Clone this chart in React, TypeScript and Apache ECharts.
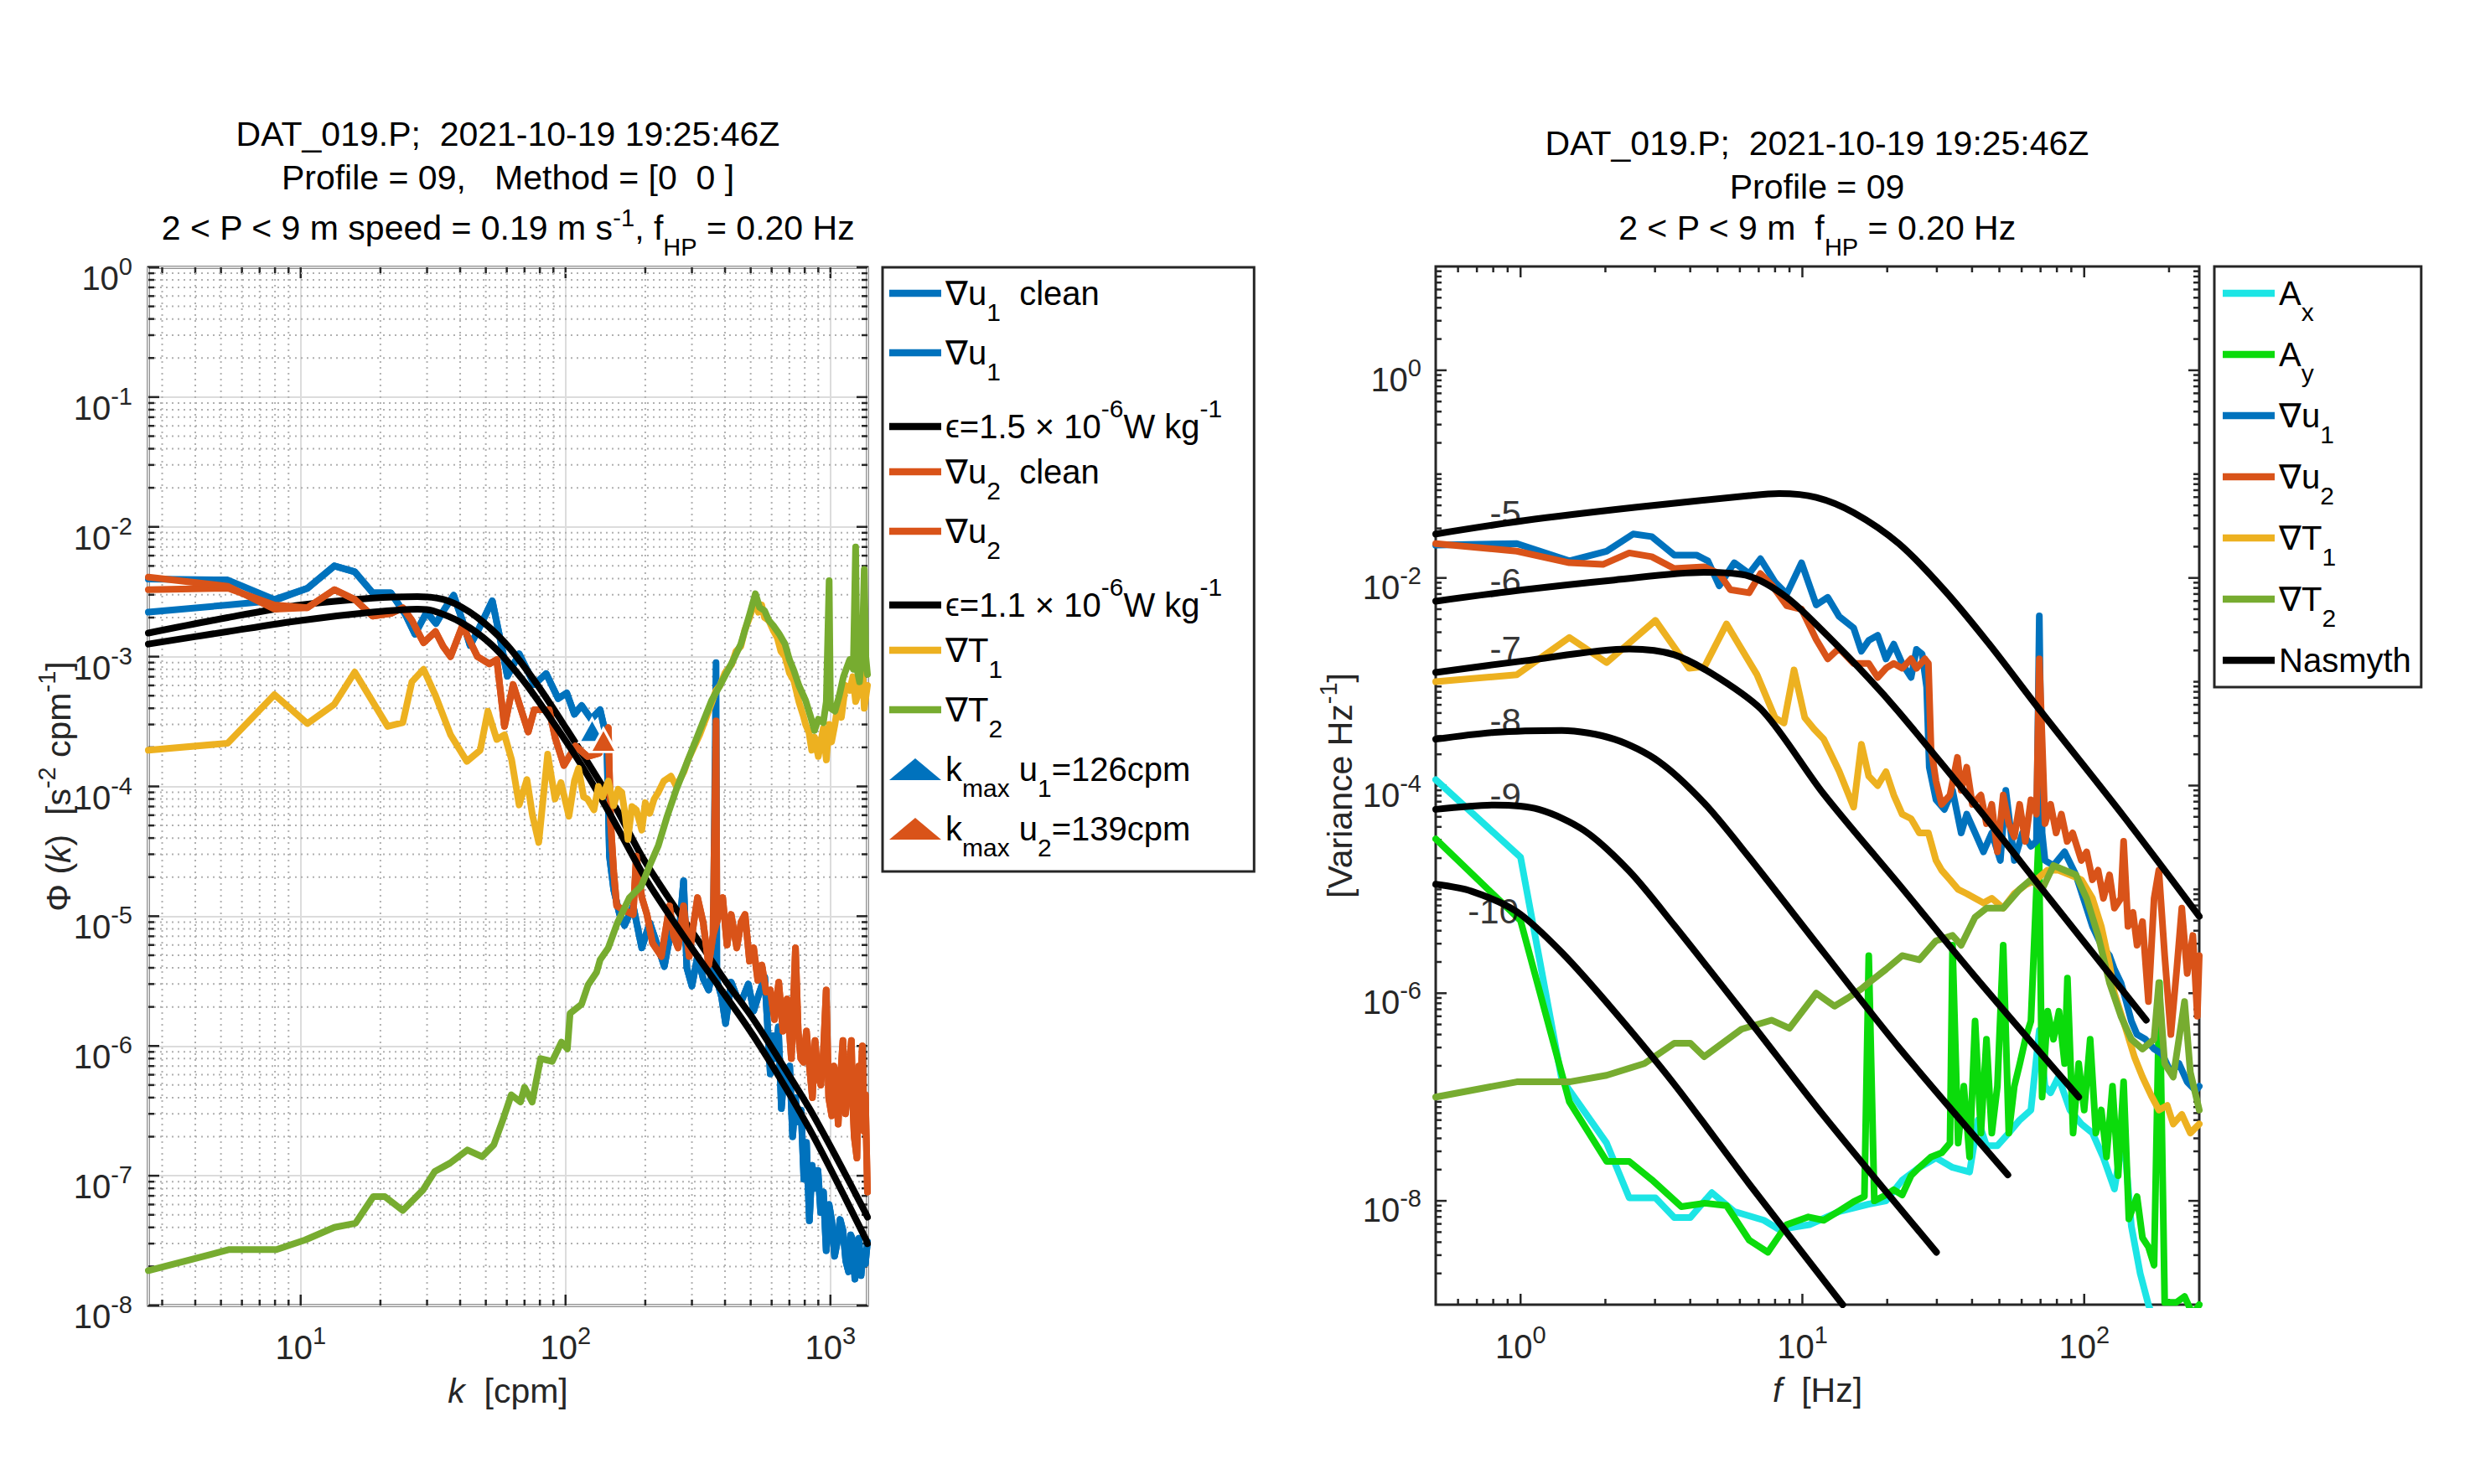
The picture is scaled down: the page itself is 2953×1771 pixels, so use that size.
import React, { useEffect, useRef } from 'react';
import * as echarts from 'echarts';

const FONT = '"Liberation Sans", Arial, Helvetica, sans-serif';
const AX = '#262626';
const BLUE = '#0072BD';
const ORANGE = '#D95319';
const YELLOW = '#EDB120';
const OLIVE = '#77AC30';
const CYAN = '#1CE5E5';
const GREEN = '#0BDB0B';

// ---------------- LEFT PANEL (k in cpm) ----------------
const u1CleanL: number[][] = [
  [2.66, 2.2e-3], [5.3, 2.5e-3], [7.96, 2.7e-3], [10.6, 3.36e-3], [13.4, 5.0e-3], [16.0, 4.5e-3], [18.7, 3.1e-3],
  [21.9, 3.1e-3], [24.9, 2.1e-3], [27.0, 1.49e-3], [29.9, 2.2e-3], [32.4, 1.8e-3], [34.9, 2.32e-3], [37.8, 2.97e-3],
  [40.8, 1.9e-3], [43.6, 1.22e-3], [46.5, 1.56e-3], [52.9, 2.69e-3], [57.3, 1.22e-3], [60.3, 7.06e-4], [66.8, 1.05e-3],
  [76.2, 6.1e-4], [84.5, 7.4e-4], [93.8, 4.75e-4], [101, 5.25e-4], [108, 3.6e-4], [115, 4.2e-4], [125, 3.3e-4],
  [135, 3.9e-4], [143, 2.35e-4], [146.5, 2.9e-5], [152, 1.6e-5], [160, 1.03e-5], [167, 8.5e-6], [180, 1.2e-5],
  [194, 5.7e-6], [208, 8.9e-6], [224, 5.7e-6], [236, 4.1e-6], [253, 8.9e-6], [266, 6e-6], [279, 1.87e-5], [287, 4e-6],
  [300, 2.9e-6], [315, 4.9e-6], [331, 3.3e-6], [347, 2.7e-6], [360, 4e-6], [373, 3.2e-6], [388, 2.4e-6], [402, 1.49e-6],
  [422, 3.1e-6], [443, 2.4e-6], [465, 2.3e-6], [490, 3e-6], [513, 1.86e-6], [540, 2.6e-6], [565, 3.4e-6], [593, 6.1e-7],
  [606, 1.2e-6], [620, 8e-7], [636, 1.4e-6], [653, 3.3e-7], [668, 6e-7], [685, 4.5e-7], [702, 7e-7], [720, 2.0e-7],
  [738, 4e-7], [755, 2.6e-7], [775, 3.2e-7], [794, 9.4e-8], [812, 1.8e-7], [833, 4.5e-8], [853, 1.2e-7], [875, 8e-8],
  [897, 1.1e-7], [919, 5.2e-8], [941, 7.5e-8], [964, 2.65e-8], [988, 6e-8], [1012, 4.5e-8], [1037, 2.4e-8],
  [1062, 3.1e-8], [1088, 4.6e-8], [1115, 3.8e-8], [1143, 2.2e-8], [1171, 1.82e-8], [1193, 3.5e-8], [1215, 3.2e-8],
  [1237, 1.6e-8], [1259, 2.45e-8], [1282, 3.3e-8], [1305, 1.7e-8], [1330, 2.6e-8], [1355, 2.1e-8], [1380, 3.1e-8],
];
const u1RawLowL: number[][] = [[2.66, 3.96e-3], [5.3, 3.9e-3], [7.96, 2.76e-3]];
const u1RawSpikeL: number[][] = [[370, 9.0e-4]];

const u2CleanL: number[][] = [
  [2.66, 3.28e-3], [5.32, 3.37e-3], [7.96, 2.5e-3], [10.6, 2.38e-3], [13.4, 3.28e-3], [16.0, 2.76e-3], [18.7, 2.05e-3],
  [21.9, 2.15e-3], [24.3, 2.38e-3], [26.3, 1.9e-3], [29.1, 1.28e-3], [32.3, 1.56e-3], [34.5, 1.2e-3], [36.8, 1.0e-3],
  [40.8, 1.73e-3], [46.5, 1.0e-3], [51.6, 8.8e-4], [55, 9.5e-4], [58.8, 2.9e-4], [63.4, 6.1e-4], [72.3, 2.63e-4],
  [76.2, 3.9e-4], [86.7, 3.9e-4], [91.3, 2.38e-4], [98.6, 1.45e-4], [109, 2.05e-4], [121, 1.7e-4], [134, 1.8e-4],
  [145, 2.84e-4], [148, 5.3e-5], [152, 2.2e-5], [156, 1.2e-5], [168, 1.1e-5], [180, 1.03e-5], [185, 2.9e-5],
  [194, 1.4e-5], [203, 1.03e-5], [213, 6.2e-6], [230, 4.9e-6], [247, 1.2e-5], [256, 7e-6], [266, 5.7e-6], [279, 1.2e-5],
  [293, 4.9e-6], [305, 9e-6], [315, 1.39e-5], [331, 8.9e-6], [347, 4.2e-6], [360, 7e-6], [373, 9e-6], [392, 1.39e-5],
  [407, 6e-6], [422, 1.03e-5], [443, 5.7e-6], [460, 9e-6], [476, 1.03e-5], [495, 4.5e-6], [513, 5.7e-6], [532, 3.2e-6],
  [551, 4.2e-6], [572, 2.6e-6], [593, 2.7e-6], [615, 1.6e-6], [638, 3.1e-6], [662, 1.3e-6], [686, 2.3e-6], [712, 8e-7],
  [738, 5.7e-6], [756, 1.28e-6], [773, 8e-7], [790, 7.5e-7], [812, 1.3e-6], [833, 7.0e-7], [855, 4e-7], [875, 1.1e-6],
  [897, 6e-7], [920, 5e-7], [941, 9e-7], [964, 2.7e-6], [985, 4e-7], [1012, 2.9e-7], [1030, 7e-7], [1050, 6e-7],
  [1070, 2.5e-7], [1088, 5.2e-7], [1115, 1.1e-6], [1140, 3e-7], [1170, 6e-7], [1200, 1.1e-6], [1215, 3.5e-7],
  [1230, 2e-7], [1259, 1.37e-7], [1280, 7e-7], [1300, 5e-7], [1320, 1.0e-6], [1340, 2.2e-7], [1355, 4.2e-7], [1380, 7.5e-8],
];
const u2RawLowL: number[][] = [[2.66, 4.1e-3], [5.32, 3.48e-3], [7.96, 2.32e-3]];
const u2RawSpikeL: number[][] = [[370, 3.2e-4]];

const eps1L: number[][] = [
  [2.66, 1.52e-3], [5.3, 2.0e-3], [10, 2.5e-3], [18.7, 2.83e-3], [27.6, 2.9e-3], [35.8, 2.7e-3], [46.5, 2.0e-3],
  [60.3, 1.22e-3], [78.1, 6.1e-4], [101, 2.76e-4], [131, 1.19e-4], [157, 6.5e-5], [194, 2.9e-5], [250, 1.3e-5],
  [315, 6.6e-6], [400, 3.2e-6], [513, 1.6e-6], [650, 7.5e-7], [833, 3.3e-7], [1050, 1.4e-7], [1355, 5.2e-8], [1380, 4.8e-8],
];
const eps2L: number[][] = [
  [2.66, 1.25e-3], [5.3, 1.56e-3], [10, 1.9e-3], [18.7, 2.2e-3], [27.6, 2.32e-3], [31.5, 2.26e-3], [40.8, 1.81e-3],
  [52.9, 1.22e-3], [68.6, 6.7e-4], [89, 3.2e-4], [115, 1.45e-4], [146, 6.3e-5], [203, 1.87e-5], [315, 4.9e-6],
  [513, 1.19e-6], [833, 2.3e-7], [1355, 3.3e-8], [1380, 3.0e-8],
];

const t1L: number[][] = [
  [2.66, 1.9e-4], [5.3, 2.15e-4], [7.96, 5.1e-4], [10.6, 3.05e-4], [13.4, 4.3e-4], [16.0, 7.6e-4], [18.7, 4.5e-4],
  [21.3, 2.9e-4], [24.3, 3.1e-4], [26.3, 6.4e-4], [29.1, 8.0e-4], [32.3, 5.0e-4], [36.8, 2.5e-4], [42.4, 1.56e-4],
  [47.6, 1.9e-4], [50.9, 3.8e-4], [55.0, 2.3e-4], [58.8, 2.5e-4], [62.6, 1.6e-4], [66.8, 7.2e-5], [71.5, 1.13e-4],
  [75, 6e-5], [79.2, 3.7e-5], [85.6, 1.77e-4], [91.3, 8.0e-5], [96.1, 1.07e-4], [103, 5.9e-5], [108, 1.1e-4],
  [112, 1.38e-4], [117, 8.3e-5], [121, 8e-5], [128, 6.6e-5], [133, 1.0e-4], [138, 8.3e-5], [145, 1.1e-4], [152, 7.1e-5],
  [158, 9.5e-5], [163, 9e-5], [168, 6e-5], [172, 3.9e-5], [178, 7e-5], [185, 6.6e-5], [194, 4.6e-5], [200, 7.5e-5],
  [208, 6.2e-5], [216, 8e-5], [224, 9e-5], [235, 1.1e-4], [250, 1.2e-4], [262, 1.0e-4], [280, 1.3e-4], [290, 1.6e-4],
  [305, 2.0e-4], [321, 2.5e-4], [340, 3.4e-4], [356, 4.4e-4], [370, 5.5e-4], [383, 6.0e-4], [400, 7.5e-4], [424, 8.7e-4],
  [440, 1.1e-3], [459, 1.2e-3], [475, 1.6e-3], [495, 2.0e-3], [510, 2.4e-3], [521, 2.8e-3], [535, 2.2e-3], [550, 2.5e-3],
  [564, 2.0e-3], [585, 1.9e-3], [608, 1.6e-3], [630, 1.4e-3], [650, 1.1e-3], [674, 1.0e-3], [700, 7.5e-4], [728, 6.5e-4],
  [760, 4.5e-4], [790, 3.5e-4], [806, 3.0e-4], [830, 2.6e-4], [850, 1.9e-4], [871, 2.4e-4], [900, 1.7e-4], [920, 2.2e-4],
  [940, 2.8e-4], [965, 1.6e-4], [989, 3.0e-4], [1010, 2.2e-4], [1040, 3.0e-4], [1070, 4.5e-4], [1100, 3.4e-4],
  [1140, 6e-4], [1183, 5.5e-4], [1215, 7e-4], [1245, 4.5e-4], [1288, 5.5e-4], [1320, 9e-4], [1342, 4e-4], [1380, 6e-4],
];
const t2L: number[][] = [
  [2.66, 1.86e-8], [5.38, 2.7e-8], [8.1, 2.7e-8], [10.4, 3.2e-8], [13.4, 4.0e-8], [16.1, 4.3e-8], [18.8, 6.9e-8],
  [20.8, 6.9e-8], [24.3, 5.4e-8], [29.0, 7.8e-8], [32.1, 1.08e-7], [36.6, 1.25e-7], [42.6, 1.58e-7], [48.4, 1.4e-7],
  [53.6, 1.73e-7], [58, 2.7e-7], [62.4, 4.2e-7], [67.6, 3.7e-7], [70, 4.8e-7], [74.8, 3.7e-7], [80.5, 8.0e-7],
  [89, 7.6e-7], [96.5, 1.07e-6], [101.6, 9.5e-7], [104, 1.78e-6], [115, 2.1e-6], [121.6, 2.95e-6], [131, 3.7e-6],
  [135, 4.6e-6], [145, 5.7e-6], [157, 8.9e-6], [174, 1.38e-5], [193, 1.7e-5], [207.7, 2.45e-5], [224, 3.5e-5],
  [242, 5.9e-5], [262, 9.5e-5], [290, 1.6e-4], [321, 2.7e-4], [356, 4.6e-4], [383, 6.0e-4], [424, 8.9e-4],
  [459, 1.25e-3], [495, 2.1e-3], [521, 3.05e-3], [540, 2.4e-3], [564, 2.26e-3], [585, 1.9e-3], [608, 1.74e-3],
  [640, 1.5e-3], [674, 1.25e-3], [700, 9.5e-4], [728, 7.8e-4], [760, 6e-4], [806, 4.6e-4], [840, 3.5e-4], [871, 2.7e-4],
  [900, 3.3e-4], [940, 3.1e-4], [965, 4.5e-4], [989, 3.85e-3], [1000, 4e-4], [1040, 3.8e-4], [1080, 5e-4], [1120, 7e-4],
  [1183, 9.5e-4], [1220, 8e-4], [1245, 7.0e-3], [1260, 8e-4], [1288, 6.4e-4], [1320, 1.2e-3], [1342, 4.7e-3],
  [1360, 1e-3], [1380, 7.3e-4],
];
const kmax1L: number[][] = [[126, 2.7e-4]];
const kmax2L: number[][] = [[139, 2.27e-4]];

// ---------------- RIGHT PANEL (f in Hz) ----------------
const axR: number[][] = [
  [0.5, 1.14e-4], [1.0, 2.04e-5], [1.4, 1.48e-7], [2.02, 3.6e-8], [2.43, 1.07e-8], [3.01, 1.07e-8], [3.51, 6.9e-9],
  [4.0, 6.9e-9], [4.77, 1.2e-8], [5.73, 7.9e-9], [7.3, 6.5e-9], [8.27, 5.3e-9], [10.6, 5.9e-9], [13.5, 7.9e-9],
  [17.2, 9.3e-9], [19.8, 1e-8], [22.6, 1.58e-8], [26, 2.1e-8], [29.8, 2.6e-8], [34.1, 2.1e-8], [39.2, 1.9e-8], [42, 6e-8],
  [45, 3.4e-8], [49.2, 3.4e-8], [54, 4.5e-8], [59, 6e-8], [64.7, 7.5e-8], [69.3, 4.4e-7], [72.6, 1.27e-7], [76, 1.1e-7],
  [81, 1.56e-7], [89, 7.5e-8], [97.7, 5.5e-8], [107, 4.5e-8], [117, 2.6e-8], [128, 1.3e-8], [138, 4.5e-8], [147, 5.7e-9],
  [158, 2e-9], [169, 1e-9], [181, 6e-10], [200, 5e-10], [256, 5e-10],
];
const ayR: number[][] = [
  [0.5, 3.06e-5], [1.0, 5e-6], [1.49, 9e-8], [2.02, 2.4e-8], [2.43, 2.4e-8], [2.92, 1.6e-8], [3.72, 8.8e-9],
  [4.5, 9.5e-9], [5.38, 9e-9], [6.47, 4.2e-9], [7.54, 3.2e-9], [8.8, 5.9e-9], [10.5, 7e-9], [11.9, 6.5e-9], [13.5, 8e-9],
  [15.2, 9.8e-9], [16.6, 1.1e-8], [17.2, 2.3e-6], [18.0, 1.0e-8], [19.8, 1.14e-8], [21.1, 1.28e-8], [22.6, 1.14e-8],
  [24.3, 1.75e-8], [26.0, 2.1e-8], [28.6, 2.65e-8], [31.2, 2.9e-8], [33.4, 3.6e-8], [34.1, 2.9e-6], [35.7, 3.6e-8],
  [37.4, 1.27e-7], [39.2, 2.65e-8], [41, 5.4e-7], [43, 4.5e-8], [45, 3.6e-7], [47, 4.5e-8], [49.2, 1.27e-7],
  [51.6, 2.9e-6], [54, 4.5e-8], [56.5, 1.27e-7], [59.1, 2.1e-7], [61.8, 3.6e-7], [64.7, 5.4e-7], [69, 3.5e-5],
  [70.9, 1.0e-7], [74.2, 6.7e-7], [77.8, 3.6e-7], [81.4, 6.7e-7], [85.2, 2.1e-7], [87.2, 1.4e-6], [91.3, 4.5e-8],
  [95.6, 2.1e-7], [100, 7.5e-8], [105, 3.6e-7], [110, 4.5e-8], [115, 7.5e-8], [120, 2.65e-8], [126, 1.27e-7],
  [132, 1.75e-8], [138, 1.4e-7], [144, 6.7e-9], [154, 1.1e-8], [161, 4.4e-9], [169, 3.6e-9], [177, 2.4e-9],
  [185, 1.26e-6], [193, 1.05e-9], [212, 1.05e-9], [227, 1.2e-9], [243, 8e-10], [256, 1.0e-9],
];
const u1R: number[][] = [
  [0.5, 2.07e-2], [0.97, 2.14e-2], [1.49, 1.46e-2], [2.02, 1.81e-2], [2.51, 2.65e-2], [2.92, 2.5e-2], [3.51, 1.66e-2],
  [4.21, 1.66e-2], [4.62, 1.46e-2], [5.07, 8.4e-3], [5.73, 1.4e-2], [6.47, 1.1e-2], [7.1, 1.53e-2], [8.0, 9.1e-3],
  [8.8, 7.0e-3], [9.93, 1.4e-2], [11.2, 5.5e-3], [12.3, 6.5e-3], [13.5, 4.26e-3], [15.2, 3.3e-3], [16.2, 1.97e-3],
  [17.2, 2.5e-3], [18.5, 2.8e-3], [19.8, 1.66e-3], [21.1, 2.3e-3], [22.6, 1.5e-3], [24.3, 1.1e-3], [25.4, 2.05e-3],
  [26.6, 1.85e-3], [27.6, 8.9e-4], [28.2, 1.5e-4], [29.8, 7.3e-5], [31.9, 5.9e-5], [34.1, 9.0e-5], [36.6, 3.5e-5],
  [38.3, 5.3e-5], [41, 3.5e-5], [43.9, 2.3e-5], [47, 3.5e-5], [50.4, 1.9e-5], [52.7, 9.0e-5], [56.5, 1.9e-5],
  [60.4, 3.5e-5], [64.7, 2.6e-5], [67.7, 2.9e-5], [69.3, 4.3e-3], [70.9, 3.5e-5], [72.6, 1.9e-5], [77.8, 1.7e-5],
  [85.2, 2.3e-5], [93.4, 1.38e-5], [102, 6.6e-6], [107, 4.4e-6], [115, 2.9e-6], [123, 2.3e-6], [128, 1.7e-6],
  [135, 1.26e-6], [141, 8.3e-7], [147, 5.4e-7], [154, 4.0e-7], [165, 3.6e-7], [177, 2.9e-7], [189, 2.6e-7],
  [203, 1.73e-7], [217, 2.1e-7], [232, 1.4e-7], [249, 1.15e-7], [256, 1.27e-7],
];
const u2R: number[][] = [
  [0.5, 2.14e-2], [0.97, 1.81e-2], [1.49, 1.4e-2], [1.96, 1.35e-2], [2.43, 1.74e-2], [2.92, 1.6e-2], [3.51, 1.23e-2],
  [4.48, 1.28e-2], [5.07, 1.1e-2], [5.55, 7.7e-3], [6.47, 7.2e-3], [7.1, 1.1e-2], [7.8, 8.5e-3], [8.8, 5.4e-3],
  [9.93, 5.0e-3], [11.2, 2.55e-3], [12.3, 1.66e-3], [13.5, 2.1e-3], [15.2, 1.5e-3], [17.2, 1.5e-3], [18.5, 1.1e-3],
  [19.8, 1.35e-3], [21.1, 1.5e-3], [22.6, 1.35e-3], [24.3, 1.66e-3], [25.4, 1.35e-3], [27.2, 1.66e-3], [28.0, 1.5e-3],
  [28.6, 2.3e-4], [29.8, 1.1e-4], [31.2, 6.6e-5], [33.4, 8.1e-5], [35.5, 1.87e-4], [36.6, 9e-5], [38.3, 1.5e-4],
  [40.1, 6.6e-5], [43, 8.1e-5], [45, 4.3e-5], [47, 6.6e-5], [49.2, 2.3e-5], [51.6, 8.1e-5], [54, 4.3e-5], [56.5, 3.2e-5],
  [59, 6.6e-5], [61.8, 2.9e-5], [64.7, 7.3e-5], [67.7, 5.3e-5], [69.3, 1.66e-3], [72.6, 4.3e-5], [76, 6.6e-5],
  [79.5, 3.5e-5], [83, 5.3e-5], [87, 2.9e-5], [91, 3.5e-5], [97.7, 1.9e-5], [102, 2.3e-5], [107, 1.24e-5], [112, 1.53e-5],
  [117, 8.2e-6], [123, 1.38e-5], [128, 6.6e-6], [135, 8.2e-6], [138, 2.9e-5], [143, 4.4e-6], [149, 6e-6], [154, 2.9e-6],
  [161, 4.9e-6], [169, 8.3e-7], [177, 8.2e-6], [184, 1.53e-5], [193, 2.3e-6], [203, 4e-7], [213, 1.7e-6], [222, 6.6e-6],
  [232, 1.55e-6], [243, 3.6e-6], [252, 6e-7], [256, 2.3e-6],
];
const t1R: number[][] = [
  [0.5, 1.0e-3], [0.97, 1.17e-3], [1.49, 2.67e-3], [2.02, 1.53e-3], [3.01, 3.9e-3], [3.96, 1.35e-3], [4.5, 1.4e-3],
  [5.38, 3.6e-3], [6.9, 1.17e-3], [8.0, 4.5e-4], [8.6, 4.0e-4], [9.34, 1.3e-3], [10.2, 4.5e-4], [11.0, 3.5e-4],
  [11.9, 2.8e-4], [13.5, 1.38e-4], [15.2, 6.2e-5], [16.2, 2.5e-4], [17.2, 1.23e-4], [18.5, 1.0e-4], [19.8, 1.36e-4],
  [21.1, 8.1e-5], [22.6, 5.3e-5], [24.3, 4.8e-5], [26, 3.5e-5], [28, 3.5e-5], [29.8, 1.9e-5], [31.2, 1.53e-5],
  [33.4, 1.24e-5], [35.7, 1.0e-5], [38.3, 9.1e-6], [41, 8.2e-6], [43.9, 7.4e-6], [47, 8.2e-6], [51.6, 6.6e-6],
  [56.5, 9.1e-6], [61.8, 1.1e-5], [67.7, 1.24e-5], [74, 1.53e-5], [81, 1.53e-5], [89, 1.38e-5], [97.7, 1.24e-5],
  [107, 8.2e-6], [115, 4.4e-6], [123, 1.9e-6], [128, 1.0e-6], [141, 4.4e-7], [151, 2.4e-7], [161, 1.56e-7],
  [173, 1.03e-7], [184, 7.5e-8], [197, 8.3e-8], [207, 5.5e-8], [222, 6.8e-8], [238, 4.5e-8], [256, 5.5e-8],
];
const t2R: number[][] = [
  [0.5, 1.0e-7], [0.97, 1.4e-7], [1.49, 1.4e-7], [2.02, 1.62e-7], [2.75, 2.1e-7], [3.51, 3.3e-7], [4.0, 3.3e-7],
  [4.48, 2.45e-7], [6.08, 4.5e-7], [7.77, 5.5e-7], [9, 4.6e-7], [11.2, 1.0e-6], [13, 7.5e-7], [14.5, 9e-7],
  [16.2, 1.1e-6], [17.2, 1.26e-6], [19.8, 1.7e-6], [22.6, 2.3e-6], [26, 2.1e-6], [29.8, 3.2e-6], [34.1, 3.6e-6],
  [36.6, 2.9e-6], [41, 5.4e-6], [45, 6.6e-6], [51.6, 6.6e-6], [59, 1.0e-5], [64.7, 1.24e-5], [70.9, 1.0e-5],
  [77.8, 1.7e-5], [85.2, 1.53e-5], [93.4, 1.38e-5], [102, 8.2e-6], [112, 3.6e-6], [123, 1.26e-6], [135, 6e-7],
  [147, 3.6e-7], [161, 2.9e-7], [177, 3.6e-7], [184, 1.26e-6], [193, 2.1e-7], [207, 1.56e-7], [227, 8.3e-7],
  [238, 1.73e-7], [256, 7.5e-8],
];
const nas5R: number[][] = [
  [0.5, 2.65e-2], [1.03, 3.57e-2], [2.58, 4.8e-2], [6.47, 6.2e-2], [8.27, 6.5e-2], [11.2, 5.97e-2], [15.2, 4.26e-2],
  [22, 2.14e-2], [31.8, 7.7e-3], [45.8, 2.34e-3], [70.5, 5.1e-4], [138, 5.06e-5], [256, 5.5e-6],
];
const nas6R: number[][] = [
  [0.5, 5.97e-3], [1.03, 7.7e-3], [2.15, 9.55e-3], [4.48, 1.13e-2], [6.47, 1.04e-2], [8.8, 6.5e-3], [11.9, 3.02e-3],
  [17.2, 1.08e-3], [22, 5.1e-4], [40.6, 6.8e-5], [75, 8.3e-6], [166, 5.5e-7],
];
const nas7R: number[][] = [
  [0.5, 1.23e-3], [1.03, 1.59e-3], [2.43, 2.07e-3], [3.51, 1.82e-3], [5.07, 1.08e-3], [7.3, 5.1e-4], [11.9, 8.3e-5],
  [22, 1.12e-5], [40.6, 1.49e-6], [95.6, 1e-7],
];
const nas8R: number[][] = [
  [0.5, 2.8e-4], [0.81, 3.26e-4], [1.4, 3.4e-4], [2.15, 2.8e-4], [3.1, 1.7e-4], [4.48, 6.8e-5], [6.47, 2.04e-5],
  [11.9, 2.47e-6], [22, 3.0e-7], [53.6, 1.78e-8],
];
const nas9R: number[][] = [
  [0.5, 5.9e-5], [0.81, 6.5e-5], [1.16, 5.9e-5], [1.68, 3.7e-5], [2.43, 1.5e-5], [3.51, 4.5e-6], [6.47, 5.5e-7],
  [11.9, 6.6e-8], [29.9, 3.2e-9],
];
const nas10R: number[][] = [
  [0.5, 1.12e-5], [0.67, 9.6e-6], [0.97, 6.1e-6], [1.4, 2.47e-6], [2.15, 6.7e-7], [3.51, 1.33e-7], [6.47, 1.46e-8],
  [13.9, 1.0e-9],
];
const nasLabelText = ['-5', '-6', '-7', '-8', '-9', '-10'];
const nasLabelF = [0.884, 0.884, 0.884, 0.884, 0.884, 0.8];
const nasLabelV = [4.18e-2, 9.3e-3, 2.06e-3, 4.18e-4, 8.0e-5, 6.1e-6];

// ---------------- ticks ----------------
const MANT = [2, 3, 4, 5, 6, 7, 8, 9];
const leftXMajor = [10, 100, 1000];
const leftXMinor = [3, 4, 5, 6, 7, 8, 9, 20, 30, 40, 50, 60, 70, 80, 90, 200, 300, 400, 500, 600, 700, 800, 900];
const leftYMajorExp = [-8, -7, -6, -5, -4, -3, -2, -1, 0];
const leftYMinorExp = [-8, -7, -6, -5, -4, -3, -2, -1];
const rightXMajor = [1, 10, 100];
const rightXMinor = [0.6, 0.7, 0.8, 0.9, 2, 3, 4, 5, 6, 7, 8, 9, 20, 30, 40, 50, 60, 70, 80, 90, 200];
const rightYMajorExp = [-8, -6, -4, -2, 0];
const rightYOddExp = [-7, -5, -3, -1];
const rightYMinorExp = [-9, -8, -7, -6, -5, -4, -3, -2, -1, 0];

const leftTicks: number[][] = [
  ...leftXMajor.map((v) => [v, 1e-4, 0]),
  ...leftXMinor.map((v) => [v, 1e-4, 1]),
  ...leftYMajorExp.map((e) => [10, Math.pow(10, e), 2]),
  ...leftYMinorExp.flatMap((e) => MANT.map((m) => [10, m * Math.pow(10, e), 3])),
];
const rightTicks: number[][] = [
  ...rightXMajor.map((v) => [v, 1e-4, 0]),
  ...rightXMinor.map((v) => [v, 1e-4, 1]),
  ...rightYMajorExp.map((e) => [10, Math.pow(10, e), 2]),
  ...rightYOddExp.map((e) => [10, Math.pow(10, e), 3]),
  ...rightYMinorExp.flatMap((e) => MANT.map((m) => [10, m * Math.pow(10, e), 3])),
];

// ---------------- text styles ----------------
const tickRich = {
  b: { fontSize: 40, lineHeight: 56, fontFamily: FONT, color: AX },
  s: { fontSize: 29, height: 28, lineHeight: 28, verticalAlign: 'top', fontFamily: FONT, color: AX },
};
const nameRich = {
  b: { fontSize: 41, lineHeight: 56, fontFamily: FONT, color: AX },
  i: { fontSize: 41, lineHeight: 56, fontStyle: 'italic', fontFamily: FONT, color: AX },
  p: { fontSize: 29, height: 28, lineHeight: 28, verticalAlign: 'top', fontFamily: FONT, color: AX },
};
const legendRich = {
  b: { fontSize: 40, lineHeight: 56, fontFamily: FONT, color: '#000' },
  e: { fontSize: 38, lineHeight: 56, fontFamily: FONT, color: '#000' },
  d: { fontSize: 30, height: 12, lineHeight: 12, verticalAlign: 'bottom', fontFamily: FONT, color: '#000' },
  p: { fontSize: 30, height: 12, lineHeight: 12, verticalAlign: 'top', fontFamily: FONT, color: '#000' },
};
const titleRich = {
  b: { fontSize: 41, lineHeight: 50, fontFamily: FONT, color: '#000' },
  p: { fontSize: 29, height: 26, lineHeight: 26, verticalAlign: 'top', fontFamily: FONT, color: '#000' },
  d: { fontSize: 29, height: 4, lineHeight: 4, verticalAlign: 'bottom', fontFamily: FONT, color: '#000' },
};

const legendText: Record<string, string> = {
  L_u1c: '{b|∇u}{d|1}{b|  clean}',
  L_u1: '{b|∇u}{d|1}',
  L_eps1: '{e|ϵ}{b|=1.5 × 10}{p|-6}{b|W kg}{p|-1}',
  L_u2c: '{b|∇u}{d|2}{b|  clean}',
  L_u2: '{b|∇u}{d|2}',
  L_eps2: '{e|ϵ}{b|=1.1 × 10}{p|-6}{b|W kg}{p|-1}',
  L_T1: '{b|∇T}{d|1}',
  L_T2: '{b|∇T}{d|2}',
  L_k1: '{b|k}{d|max}{b| u}{d|1}{b|=126cpm}',
  L_k2: '{b|k}{d|max}{b| u}{d|2}{b|=139cpm}',
  R_Ax: '{b|A}{d|x}',
  R_Ay: '{b|A}{d|y}',
  R_u1: '{b|∇u}{d|1}',
  R_u2: '{b|∇u}{d|2}',
  R_T1: '{b|∇T}{d|1}',
  R_T2: '{b|∇T}{d|2}',
  R_nas: '{b|Nasmyth}',
};

const LINE_ICON = 'path://M0 0H62V8.5H0Z';
const leftLegendNames = ['L_u1c', 'L_u1', 'L_eps1', 'L_u2c', 'L_u2', 'L_eps2', 'L_T1', 'L_T2', 'L_k1', 'L_k2'];
const rightLegendNames = ['R_Ax', 'R_Ay', 'R_u1', 'R_u2', 'R_T1', 'R_T2', 'R_nas'];

function logLabel(v: number, evenOnly = false) {
  const e = Math.log10(v);
  const r = Math.round(e);
  if (Math.abs(e - r) > 1e-6) return '';
  if (evenOnly && r % 2 !== 0) return '';
  return '{b|10}{s|' + (r === 0 ? '0' : String(r)) + '}';
}

function tickRenderer(dotted: boolean) {
  return (params: any, api: any) => {
    const cs = params.coordSys;
    const kind = api.value(2);
    const p = api.coord([api.value(0), api.value(1)]);
    const len = kind === 0 || kind === 2 ? 13 : 7;
    const tick = { stroke: AX, lineWidth: 2.5 };
    const dot = { stroke: '#b0b0b0', lineWidth: 2, lineDash: [2, 5] };
    const ch: any[] = [];
    if (kind < 2) {
      const x = p[0];
      if (dotted && kind === 1) ch.push({ type: 'line', shape: { x1: x, y1: cs.y, x2: x, y2: cs.y + cs.height }, style: dot });
      ch.push({ type: 'line', shape: { x1: x, y1: cs.y + cs.height, x2: x, y2: cs.y + cs.height - len }, style: tick });
      ch.push({ type: 'line', shape: { x1: x, y1: cs.y, x2: x, y2: cs.y + len }, style: tick });
    } else {
      const y = p[1];
      if (dotted && kind === 3) ch.push({ type: 'line', shape: { x1: cs.x, y1: y, x2: cs.x + cs.width, y2: y }, style: dot });
      ch.push({ type: 'line', shape: { x1: cs.x, y1: y, x2: cs.x + len, y2: y }, style: tick });
      ch.push({ type: 'line', shape: { x1: cs.x + cs.width - len, y1: y, x2: cs.x + cs.width, y2: y }, style: tick });
    }
    return { type: 'group', children: ch };
  };
}

const sortByX = (a: number[], b: number[]) => a[0] - b[0];

function buildOption() {
  const u1RawL = [...u1RawLowL, ...u1CleanL.slice(3), ...u1RawSpikeL].sort(sortByX);
  const u2RawL = [...u2RawLowL, ...u2CleanL.slice(3), ...u2RawSpikeL].sort(sortByX);

  const line = (name: string, data: number[][], color: string, idx: number, extra: any = {}) => ({
    type: 'line', name, data, xAxisIndex: idx, yAxisIndex: idx, symbol: 'none', silent: true,
    lineStyle: { color, width: 8, cap: 'round', join: 'round' }, itemStyle: { color }, z: 3, ...extra,
  });
  const tri = (name: string, data: number[][], color: string) => ({
    type: 'scatter', name, data, xAxisIndex: 0, yAxisIndex: 0, symbol: 'triangle', symbolSize: [31, 28], silent: true,
    itemStyle: { color, borderColor: '#fff', borderWidth: 3, opacity: 1 }, z: 5,
  });

  const xAxis = (gi: number, min: number, max: number, name: string) => ({
    type: 'log', gridIndex: gi, min, max, logBase: 10,
    axisLine: { show: false }, axisTick: { show: false }, minorTick: { show: false },
    axisLabel: { formatter: (v: number) => logLabel(v), margin: 22, rich: tickRich, color: AX },
    splitLine: { show: gi === 0, lineStyle: { color: '#dcdcdc', width: 2 } },
    name, nameLocation: 'middle', nameGap: 74, nameMoveOverlap: false,
    nameTextStyle: { rich: nameRich, color: AX },
  });

  const legendItems = (names: string[]) =>
    names.map((n) => (n === 'L_k1' || n === 'L_k2' ? { name: n, icon: 'triangle' } : { name: n, icon: LINE_ICON }));

  const legendBase = {
    orient: 'vertical', align: 'left', selectedMode: false,
    itemWidth: 62, itemHeight: 26, borderColor: AX, borderWidth: 3, backgroundColor: '#fff',
    formatter: (n: string) => legendText[n] || n,
    textStyle: { rich: legendRich, color: '#000', fontFamily: FONT },
    itemStyle: { borderWidth: 0 },
  };

  const title = (x: number, y: number, text: string) => ({
    type: 'text', x, y, silent: true,
    style: { text, rich: titleRich, align: 'center', verticalAlign: 'middle', fill: '#000', fontFamily: FONT, fontSize: 41 },
  });

  return {
    animation: false,
    backgroundColor: '#ffffff',
    textStyle: { fontFamily: FONT },
    grid: [
      { left: 177, top: 319, width: 858, height: 1239, show: true, borderColor: AX, borderWidth: 3, backgroundColor: 'transparent', containLabel: false, outerBoundsMode: 'none' },
      { left: 1713, top: 318, width: 911, height: 1239, show: true, borderColor: AX, borderWidth: 3, backgroundColor: 'transparent', containLabel: false, outerBoundsMode: 'none' },
    ],
    xAxis: [
      xAxis(0, 2.66, 1380, '{i|k}{b|  [cpm]}'),
      xAxis(1, 0.5, 256, '{i|f}{b|  [Hz]}'),
    ],
    yAxis: [
      {
        type: 'log', gridIndex: 0, min: 1e-8, max: 1, logBase: 10,
        axisLine: { show: false }, axisTick: { show: false }, minorTick: { show: false },
        axisLabel: { formatter: (v: number) => logLabel(v), margin: 19, rich: tickRich, color: AX, padding: [26, 0, 0, 0] },
        splitLine: { show: true, lineStyle: { color: '#dcdcdc', width: 2 } },
        name: '{b|Φ (}{i|k}{b|)  [s}{p|-2}{b| cpm}{p|-1}{b|]}', nameLocation: 'middle', nameGap: 79, nameRotate: 90,
        nameMoveOverlap: false, nameTextStyle: { rich: nameRich, color: AX },
      },
      {
        type: 'log', gridIndex: 1, min: 1e-9, max: 10, logBase: 100,
        axisLine: { show: false }, axisTick: { show: false }, minorTick: { show: false },
        axisLabel: { formatter: (v: number) => logLabel(v, true), margin: 17, rich: tickRich, color: AX, padding: [22, 0, 0, 0] },
        splitLine: { show: false },
        name: '{b|[Variance Hz}{p|-1}{b|]}', nameLocation: 'middle', nameGap: 86, nameRotate: 90,
        nameMoveOverlap: false, nameTextStyle: { rich: nameRich, color: AX },
      },
    ],
    legend: [
      {
        ...legendBase, left: 1053, top: 319, itemGap: 14, padding: [11, 38, 14, 8],
        data: legendItems(leftLegendNames),
      },
      {
        ...legendBase, left: 2642, top: 318, itemGap: 16, padding: [12, 12, 12, 10],
        data: legendItems(rightLegendNames),
      },
    ],
    graphic: [
      title(606, 160, '{b|DAT_019.P;  2021-10-19 19:25:46Z}'),
      title(606, 212, '{b|Profile = 09,   Method = [0  0 ]}'),
      title(606, 272, '{b|2 < P < 9 m speed = 0.19 m s}{p|-1}{b|, f}{d|HP}{b| = 0.20 Hz}'),
      title(2168, 171, '{b|DAT_019.P;  2021-10-19 19:25:46Z}'),
      title(2168, 223, '{b|Profile = 09}'),
      title(2168, 272, '{b|2 < P < 9 m  f}{d|HP}{b| = 0.20 Hz}'),
    ],
    series: [
      { type: 'custom', name: 'ticksL', xAxisIndex: 0, yAxisIndex: 0, data: leftTicks, renderItem: tickRenderer(true), silent: true, z: 1, clip: false },
      { type: 'custom', name: 'ticksR', xAxisIndex: 1, yAxisIndex: 1, data: rightTicks, renderItem: tickRenderer(false), silent: true, z: 1, clip: false },
      line('L_u1c', u1CleanL, BLUE, 0),
      line('L_u1', u1RawL, BLUE, 0),
      line('L_eps1', eps1L, '#000', 0, { smooth: 0.3 }),
      line('L_u2c', u2CleanL, ORANGE, 0),
      line('L_u2', u2RawL, ORANGE, 0),
      line('L_eps2', eps2L, '#000', 0, { smooth: 0.3 }),
      line('L_T1', t1L, YELLOW, 0),
      line('L_T2', t2L, OLIVE, 0),
      tri('L_k1', kmax1L, BLUE),
      tri('L_k2', kmax2L, ORANGE),
      line('R_Ax', axR, CYAN, 1),
      line('R_Ay', ayR, GREEN, 1),
      line('R_u1', u1R, BLUE, 1),
      line('R_u2', u2R, ORANGE, 1),
      line('R_T1', t1R, YELLOW, 1),
      line('R_T2', t2R, OLIVE, 1),
      line('R_nas', nas5R, '#000', 1, { smooth: 0.3 }),
      line('R_nas', nas6R, '#000', 1, { smooth: 0.3 }),
      line('R_nas', nas7R, '#000', 1, { smooth: 0.3 }),
      line('R_nas', nas8R, '#000', 1, { smooth: 0.3 }),
      line('R_nas', nas9R, '#000', 1, { smooth: 0.3 }),
      line('R_nas', nas10R, '#000', 1, { smooth: 0.3 }),
      {
        type: 'scatter', name: 'R_naslab', xAxisIndex: 1, yAxisIndex: 1, silent: true, z: 6,
        symbolSize: 2, itemStyle: { color: 'transparent' },
        data: nasLabelText.map((t, i) => ({ name: t, value: [nasLabelF[i], nasLabelV[i]] })),
        label: { show: true, position: 'inside', formatter: '{b}', fontSize: 42, fontFamily: FONT, color: '#000' },
      },
    ],
  };
}

export default function App() {
  const ref = useRef<HTMLDivElement>(null);
  useEffect(() => {
    document.body.style.margin = '0';
    const chart = echarts.init(ref.current as HTMLDivElement, null, { renderer: 'svg' });
    chart.setOption(buildOption() as any);
    return () => chart.dispose();
  }, []);
  return <div ref={ref} style={{ width: 2953, height: 1771, background: '#fff' }} />;
}
